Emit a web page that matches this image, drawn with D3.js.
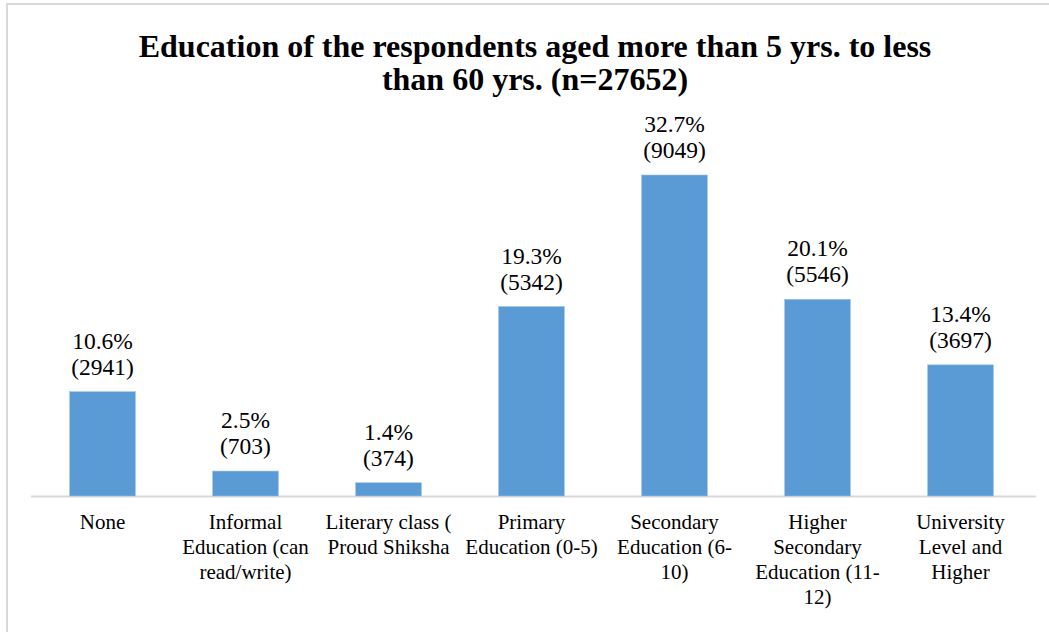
<!DOCTYPE html>
<html>
<head>
<meta charset="utf-8">
<script src="https://cdn.jsdelivr.net/npm/d3@7/dist/d3.min.js"></script>
<style>
  html, body { margin: 0; padding: 0; background: #fff; }
  svg { display: block; }
</style>
</head>
<body>
<script>
// ---- data ----
const categories = [
  "None",
  "Informal Education (can read/write)",
  "Literary class ( Proud Shiksha",
  "Primary Education (0-5)",
  "Secondary Education (6-10)",
  "Higher Secondary Education (11-12)",
  "University Level and Higher"
];
const categoryLines = [
  ["None"],
  ["Informal", "Education (can", "read/write)"],
  ["Literary class (", "Proud Shiksha"],
  ["Primary", "Education (0-5)"],
  ["Secondary", "Education (6-", "10)"],
  ["Higher", "Secondary", "Education (11-", "12)"],
  ["University", "Level and", "Higher"]
];
const counts = [2941, 703, 374, 5342, 9049, 5546, 3697];
const percents = ["10.6%", "2.5%", "1.4%", "19.3%", "32.7%", "20.1%", "13.4%"];
const titleLines = [
  "Education of the respondents aged more than 5 yrs. to less",
  "than 60 yrs. (n=27652)"
];

// ---- layout ----
const W = 1049, H = 632;
const FONT = "Liberation Serif";
const svg = d3.select("body").append("svg").attr("width", W).attr("height", H);

// border
svg.append("path")
  .attr("d", `M7,${H} L7,4 L${W},4`)
  .attr("fill", "none").attr("stroke", "#d9d9d9").attr("stroke-width", 2);

const x = d3.scaleBand().domain(categories).range([31, 1032]).paddingInner(0.54).paddingOuter(0.27);
const y = d3.scaleLinear().domain([0, 9049]).range([496, 175]);

// axis line
svg.append("line")
  .attr("x1", 31).attr("x2", 1036)
  .attr("y1", y(0) + 0.5).attr("y2", y(0) + 0.5)
  .attr("stroke", "#d9d9d9").attr("stroke-width", 2);

// bars
svg.selectAll("rect.bar").data(categories).enter().append("rect")
  .attr("class", "bar")
  .attr("x", d => x(d))
  .attr("width", x.bandwidth())
  .attr("y", (d, i) => y(counts[i]))
  .attr("height", (d, i) => y(0) - y(counts[i]))
  .attr("fill", "#5b9bd5")
  .attr("stroke", "#9dc3e6").attr("stroke-width", 0.6);

// value labels
const vl = svg.selectAll("g.vl").data(categories).enter().append("g").attr("class", "vl");
vl.append("text")
  .attr("x", d => x(d) + x.bandwidth() / 2)
  .attr("y", (d, i) => y(counts[i]) - 43)
  .attr("text-anchor", "middle")
  .attr("font-family", FONT).attr("font-size", 23.5).attr("fill", "#000")
  .text((d, i) => percents[i]);
vl.append("text")
  .attr("x", d => x(d) + x.bandwidth() / 2)
  .attr("y", (d, i) => y(counts[i]) - 17)
  .attr("text-anchor", "middle")
  .attr("font-family", FONT).attr("font-size", 23.5).attr("fill", "#000")
  .text((d, i) => "(" + counts[i] + ")");

// category labels
const cl = svg.selectAll("text.cat").data(categories).enter().append("text")
  .attr("class", "cat")
  .attr("text-anchor", "middle")
  .attr("font-family", FONT).attr("font-size", 21).attr("fill", "#000");
cl.each(function(d, i) {
  d3.select(this).selectAll("tspan").data(categoryLines[i]).enter().append("tspan")
    .attr("x", x(d) + x.bandwidth() / 2)
    .attr("y", (t, j) => 529 + j * 25)
    .text(t => t);
});

// title
svg.append("text")
  .attr("text-anchor", "middle")
  .attr("font-family", FONT).attr("font-size", 32).attr("font-weight", "bold").attr("fill", "#000")
  .selectAll("tspan").data(titleLines).enter().append("tspan")
  .attr("x", 535)
  .attr("y", (t, j) => 57 + j * 33)
  .text(t => t);
</script>
</body>
</html>
